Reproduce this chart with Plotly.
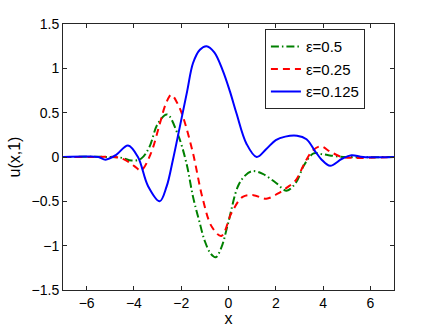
import plotly.graph_objects as go

# ε = 0.5 (green dash-dot)
x_g = [-7, -5.0, -4.5, -4.1, -3.7, -3.35, -3.0, -2.6, -2.15, -1.78, -1.5, -1.25, -1.0,
       -0.75, -0.54, -0.3, -0.02, 0.4, 0.7, 1.0, 1.45, 2.0, 2.46, 2.85, 3.2, 3.6, 4.0,
       4.5, 5.0, 7]
y_g = [0, 0, -0.01, -0.04, -0.02, 0.11, 0.37, 0.48, 0.26, -0.07, -0.45, -0.71, -0.95,
       -1.09, -1.13, -1.02, -0.75, -0.33, -0.21, -0.16, -0.19, -0.29, -0.38, -0.29,
       -0.09, 0.04, 0.03, 0.01, 0, 0]

# ε = 0.25 (red dashed)
x_r = [-7, -5.5, -4.8, -4.4, -4.0, -3.7, -3.3, -2.9, -2.65, -2.42, -2.15, -1.92, -1.5,
       -1.1, -0.7, -0.3, 0.13, 0.6, 1.05, 1.6, 2.1, 2.5, 2.85, 3.2, 3.55, 3.9, 4.3,
       4.8, 5.3, 7]
y_r = [0, 0, 0, -0.03, -0.10, -0.15, 0.03, 0.38, 0.60, 0.70, 0.60, 0.45, 0.04,
       -0.46, -0.79, -0.89, -0.63, -0.45, -0.43, -0.47, -0.41, -0.34, -0.26, -0.08,
       0.07, 0.12, 0.06, 0.0, -0.01, 0]

# ε = 0.125 (blue solid)
x_b = [-7, -6, -5.5, -5.2, -4.75, -4.25, -3.83, -3.4, -2.91, -2.62, -2.35, -2.06,
       -1.75, -1.5, -1.21, -0.93, -0.6, -0.25, 0.06, 0.34, 0.76, 1.19, 1.6, 2.0, 2.4,
       2.9, 3.3, 3.65, 3.94, 4.3, 4.8, 5.2, 5.7, 7]
y_b = [0, 0.005, 0.0, -0.03, 0.025, 0.13, 0.0, -0.33, -0.50, -0.335, -0.03, 0.34,
       0.74, 1.06, 1.21, 1.25, 1.18, 0.98, 0.74, 0.49, 0.15, 0.0, 0.09, 0.19, 0.23,
       0.24, 0.20, 0.07, -0.03, -0.10, -0.02, 0.02, 0, 0]

names = ["ε=0.5", "ε=0.25", "ε=0.125"]
x_ticks = [-6, -4, -2, 0, 2, 4, 6]
y_ticks = [-1.5, -1, -0.5, 0, 0.5, 1, 1.5]
y_tick_text = ["−1.5", "−1", "−0.5", "0", "0.5", "1", "1.5"]

FONT = "Liberation Sans, Arial, Helvetica, sans-serif"

fig = go.Figure()
fig.add_trace(go.Scatter(x=x_g, y=y_g, mode="lines", name=names[0], legendgroup="a",
                         line=dict(color="#008000", width=2, dash="8px,3px,1.5px,3px",
                                   shape="spline", smoothing=1.0)))
fig.add_trace(go.Scatter(x=x_r, y=y_r, mode="lines", name=names[1], legendgroup="b",
                         line=dict(color="#ff0000", width=2, dash="7px,5px",
                                   shape="spline", smoothing=1.0)))
fig.add_trace(go.Scatter(x=x_b, y=y_b, mode="lines", name=names[2], legendgroup="c",
                         line=dict(color="#0000ff", width=2,
                                   shape="spline", smoothing=1.0)))

axis_common = dict(showline=True, linecolor="#262626", linewidth=1, mirror="ticks",
                   ticks="inside", ticklen=4, tickcolor="#262626", showgrid=False,
                   zeroline=False, automargin=False,
                   tickfont=dict(family=FONT, size=14, color="#000"))

fig.update_layout(
    width=436, height=327,
    margin=dict(l=63, r=42, t=24, b=37),
    paper_bgcolor="white", plot_bgcolor="white",
    showlegend=True,
    legend=dict(x=0.61, y=0.98, xanchor="left", yanchor="top",
                bgcolor="white", bordercolor="#262626", borderwidth=1,
                font=dict(family=FONT, size=15, color="#000"),
                entrywidth=118,
                tracegroupgap=2, traceorder="normal"),
    xaxis=dict(range=[-7, 7], tickvals=x_ticks,
               title=dict(text="x", font=dict(family=FONT, size=16, color="#000"), standoff=0),
               **axis_common),
    yaxis=dict(range=[-1.5, 1.5], tickvals=y_ticks, ticktext=y_tick_text,
               title=dict(text="u(x,1)", font=dict(family=FONT, size=16, color="#000"), standoff=6),
               **axis_common),
)

fig.write_html("out.html", config={"displayModeBar": False},
               post_script="document.body.style.margin='0';document.body.style.overflow='hidden';")
